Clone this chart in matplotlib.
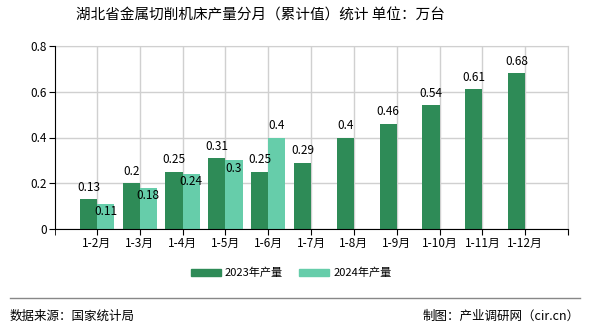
import matplotlib.pyplot as plt
import numpy as np

plt.rcParams['font.family'] = ['Noto Sans CJK SC', 'DejaVu Sans']

categories = ['1-2月', '1-3月', '1-4月', '1-5月', '1-6月', '1-7月',
              '1-8月', '1-9月', '1-10月', '1-11月', '1-12月']
prod_2023 = [0.13, 0.2, 0.25, 0.31, 0.25, 0.29, 0.4, 0.46, 0.54, 0.61, 0.68]
prod_2024 = [0.11, 0.18, 0.24, 0.3, 0.4]

c23 = '#2E8B57'
c24 = '#66CDAA'

fig = plt.figure(figsize=(5.9, 3.3), dpi=100)
ax = fig.add_axes([55/590, 1 - 229/330, (568 - 55)/590, (229 - 46)/330])

x = np.arange(len(categories))
w = 0.4
x24 = np.arange(len(prod_2024))
ax.bar(x - w/2, prod_2023, w, color=c23, zorder=3)
ax.bar(x24 + w/2, prod_2024, w, color=c24, zorder=3)

# value labels
for xi, v in zip(x, prod_2023):
    ax.annotate(f'{v:g}', (xi - w/2, v), xytext=(0, 4), textcoords='offset points',
                ha='center', va='bottom', fontsize=8.5, zorder=5)
for i, (xi, v) in enumerate(zip(x24, prod_2024)):
    if i == len(prod_2024) - 1:
        ax.annotate(f'{v:g}', (xi + w/2, v), xytext=(0, 4), textcoords='offset points',
                    ha='center', va='bottom', fontsize=8.5, zorder=5)
    else:
        ax.annotate(f'{v:g}', (xi + w/2, v), xytext=(0, -1), textcoords='offset points',
                    ha='center', va='top', fontsize=8.5, zorder=5)

ax.set_xlim(-0.98, 11.0)
ax.set_ylim(0, 0.8)
ax.set_yticks([0, 0.2, 0.4, 0.6, 0.8])
ax.set_yticklabels(['0', '0.2', '0.4', '0.6', '0.8'], fontsize=8.5)
ax.set_xticks(list(x) + [11.0 - 1e-6])
ax.set_xticklabels(categories + [''], fontsize=8.5)
ax.set_xticks([-0.98], minor=True)
ax.tick_params(axis='x', which='both', length=4, color='black', pad=2)
ax.tick_params(axis='y', length=4, color='black', pad=2)

ax.grid(True, color='#d0d0d0', linewidth=1, zorder=0)
for s in ['top', 'right']:
    ax.spines[s].set_color('#d0d0d0')
ax.spines['left'].set_color('black')
ax.spines['bottom'].set_color('black')
ax.spines['left'].set_zorder(4)
ax.spines['bottom'].set_zorder(4)

fig.text(260/590, 1 - 16/330, '湖北省金属切削机床产量分月（累计值）统计 单位：万台',
         ha='center', va='center', fontsize=10.5)

handles = [plt.Rectangle((0, 0), 1, 1, color=c23), plt.Rectangle((0, 0), 1, 1, color=c24)]
fig.legend(handles, ['2023年产量', '2024年产量'], loc='center',
           bbox_to_anchor=(291/590, 1 - 273/330), ncol=2, frameon=False,
           fontsize=8, handlelength=2.7, handleheight=0.6, columnspacing=1.4,
           handletextpad=0.4)

fig.add_artist(plt.Line2D([10/590, 580/590], [1 - 298/330, 1 - 298/330],
                          color='#888888', linewidth=1))
fig.text(10/590, 1 - 316/330, '数据来源：国家统计局', ha='left', va='center', fontsize=9)
fig.text(580/590, 1 - 316/330, '制图：产业调研网（cir.cn）', ha='right', va='center', fontsize=9)

fig.savefig('out.png', dpi=100)
